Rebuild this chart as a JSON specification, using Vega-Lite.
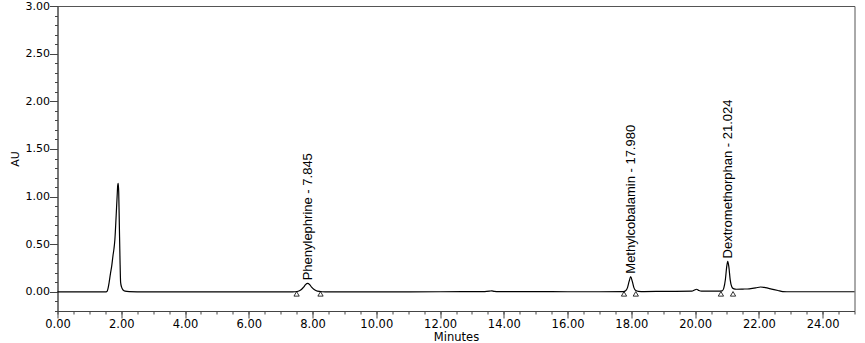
{
  "$schema": "https://vega.github.io/schema/vega-lite/v6.json",
  "width": 797,
  "height": 305,
  "autosize": {"type": "none"},
  "padding": {"left": 57.5, "top": 6, "right": 10.5, "bottom": 32},
  "background": "white",
  "config": {"view": {"stroke": "#555", "strokeWidth": 1}, "font": "DejaVu Sans"},
  "datasets": {
    "signal": [
      {"t": 0, "au": 0}, {"t": 1.0, "au": 0}, {"t": 1.5, "au": 0}, {"t": 1.55, "au": 0.005},
      {"t": 1.58, "au": 0.03}, {"t": 1.62, "au": 0.1}, {"t": 1.66, "au": 0.19}, {"t": 1.70, "au": 0.27},
      {"t": 1.74, "au": 0.38}, {"t": 1.77, "au": 0.45}, {"t": 1.80, "au": 0.55}, {"t": 1.84, "au": 0.80},
      {"t": 1.87, "au": 1.0}, {"t": 1.89, "au": 1.12}, {"t": 1.905, "au": 1.14}, {"t": 1.92, "au": 1.05},
      {"t": 1.94, "au": 0.7}, {"t": 1.96, "au": 0.35}, {"t": 1.98, "au": 0.10}, {"t": 2.01, "au": 0.05},
      {"t": 2.06, "au": 0.02}, {"t": 2.12, "au": 0.008}, {"t": 2.25, "au": 0.003}, {"t": 2.5, "au": 0.001},
      {"t": 3.0, "au": 0}, {"t": 5.0, "au": 0}, {"t": 7.3, "au": 0}, {"t": 7.45, "au": 0.002},
      {"t": 7.55, "au": 0.007}, {"t": 7.65, "au": 0.025}, {"t": 7.72, "au": 0.05}, {"t": 7.78, "au": 0.077},
      {"t": 7.845, "au": 0.09}, {"t": 7.91, "au": 0.077}, {"t": 7.97, "au": 0.05}, {"t": 8.05, "au": 0.025},
      {"t": 8.15, "au": 0.008}, {"t": 8.3, "au": 0.002}, {"t": 8.5, "au": 0}, {"t": 10.0, "au": 0},
      {"t": 12.0, "au": 0.002}, {"t": 13.4, "au": 0.003}, {"t": 13.55, "au": 0.008}, {"t": 13.62, "au": 0.012},
      {"t": 13.7, "au": 0.006}, {"t": 13.85, "au": 0.003}, {"t": 15.0, "au": 0.003}, {"t": 16.0, "au": 0.002},
      {"t": 17.0, "au": 0.002}, {"t": 17.75, "au": 0.003}, {"t": 17.82, "au": 0.012}, {"t": 17.88, "au": 0.045},
      {"t": 17.93, "au": 0.11}, {"t": 17.98, "au": 0.16}, {"t": 18.03, "au": 0.11}, {"t": 18.08, "au": 0.045},
      {"t": 18.14, "au": 0.014}, {"t": 18.22, "au": 0.006}, {"t": 18.4, "au": 0.004}, {"t": 19.0, "au": 0.006},
      {"t": 19.9, "au": 0.008}, {"t": 19.98, "au": 0.02}, {"t": 20.05, "au": 0.028}, {"t": 20.12, "au": 0.015},
      {"t": 20.2, "au": 0.008}, {"t": 20.7, "au": 0.008}, {"t": 20.85, "au": 0.012}, {"t": 20.9, "au": 0.04},
      {"t": 20.95, "au": 0.13}, {"t": 20.99, "au": 0.26}, {"t": 21.024, "au": 0.32}, {"t": 21.06, "au": 0.26},
      {"t": 21.1, "au": 0.13}, {"t": 21.15, "au": 0.055}, {"t": 21.2, "au": 0.035}, {"t": 21.3, "au": 0.028},
      {"t": 21.5, "au": 0.03}, {"t": 21.7, "au": 0.033}, {"t": 21.9, "au": 0.042}, {"t": 22.05, "au": 0.052},
      {"t": 22.2, "au": 0.045}, {"t": 22.4, "au": 0.03}, {"t": 22.6, "au": 0.015}, {"t": 22.75, "au": 0.004},
      {"t": 23.0, "au": 0.002}, {"t": 25.0, "au": 0.002}
    ],
    "marks": [
      {"t": 7.5, "au": -0.02}, {"t": 8.25, "au": -0.02},
      {"t": 17.77, "au": -0.02}, {"t": 18.14, "au": -0.02},
      {"t": 20.81, "au": -0.02}, {"t": 21.19, "au": -0.02}
    ],
    "peaks": [
      {"label": "Phenylephrine - 7.845", "t": 7.845, "au": 0.09},
      {"label": "Methylcobalamin - 17.980", "t": 17.98, "au": 0.16},
      {"label": "Dextromethorphan - 21.024", "t": 21.024, "au": 0.32}
    ]
  },
  "layer": [
    {
      "data": {"name": "signal"},
      "mark": {"type": "line", "color": "black", "strokeWidth": 1.2, "interpolate": "monotone"},
      "encoding": {
        "x": {
          "field": "t", "type": "quantitative",
          "scale": {"domain": [0, 25], "nice": false, "zero": false},
          "axis": {
            "orient": "bottom",
            "values": [0, 2, 4, 6, 8, 10, 12, 14, 16, 18, 20, 22, 24],
            "format": ".2f", "tickSize": 7, "labelPadding": 0,
            "labelFont": "DejaVu Sans", "labelFontSize": 11.5, "labelColor": "black",
            "labelFlush": false, "labelOverlap": false,
            "domainColor": "#444", "tickColor": "#444", "grid": false,
            "title": "Minutes", "titleFont": "DejaVu Sans", "titleFontSize": 11.5,
            "titleFontWeight": "normal", "titleColor": "black",
            "titleY": 29.5, "titleBaseline": "alphabetic"
          }
        },
        "y": {
          "field": "au", "type": "quantitative",
          "scale": {"domain": [-0.2, 3], "nice": false, "zero": false},
          "axis": {
            "orient": "left",
            "values": [0, 0.5, 1, 1.5, 2, 2.5, 3],
            "format": ".2f", "tickSize": 8, "labelPadding": 0,
            "labelFont": "DejaVu Sans", "labelFontSize": 11, "labelColor": "black",
            "labelFlush": false, "labelOverlap": false,
            "domainColor": "#444", "tickColor": "#444", "grid": false,
            "title": "AU", "titleFont": "DejaVu Sans", "titleFontSize": 11,
            "titleFontWeight": "normal", "titleColor": "black", "titlePadding": 5
          }
        }
      }
    },
    {
      "data": {"name": "marks"},
      "mark": {"type": "point", "shape": "triangle-up", "filled": false, "size": 28, "color": "black", "strokeWidth": 0.8, "opacity": 1},
      "encoding": {
        "x": {
          "field": "t", "type": "quantitative",
          "axis": {
            "orient": "bottom",
            "values": [0, 0.5, 1, 1.5, 2, 2.5, 3, 3.5, 4, 4.5, 5, 5.5, 6, 6.5, 7, 7.5, 8, 8.5, 9, 9.5, 10, 10.5, 11, 11.5, 12, 12.5, 13, 13.5, 14, 14.5, 15, 15.5, 16, 16.5, 17, 17.5, 18, 18.5, 19, 19.5, 20, 20.5, 21, 21.5, 22, 22.5, 23, 23.5, 24, 24.5, 25],
            "tickSize": 3, "labels": false, "domain": false, "grid": false,
            "tickColor": "#444", "title": null
          }
        },
        "y": {
          "field": "au", "type": "quantitative",
          "axis": {
            "orient": "left",
            "values": [-0.2, -0.1, 0, 0.1, 0.2, 0.3, 0.4, 0.5, 0.6, 0.7, 0.8, 0.9, 1, 1.1, 1.2, 1.3, 1.4, 1.5, 1.6, 1.7, 1.8, 1.9, 2, 2.1, 2.2, 2.3, 2.4, 2.5, 2.6, 2.7, 2.8, 2.9, 3],
            "tickSize": 3, "labels": false, "domain": false, "grid": false,
            "tickColor": "#444", "title": null
          }
        }
      }
    },
    {
      "data": {"name": "peaks"},
      "mark": {"type": "text", "angle": 270, "align": "left", "baseline": "middle", "dx": 3, "font": "Liberation Sans", "fontSize": 13, "color": "black"},
      "encoding": {
        "x": {"field": "t", "type": "quantitative", "axis": null},
        "y": {"field": "au", "type": "quantitative", "axis": null},
        "text": {"field": "label"}
      }
    }
  ],
  "resolve": {"axis": {"x": "independent", "y": "independent"}}
}
